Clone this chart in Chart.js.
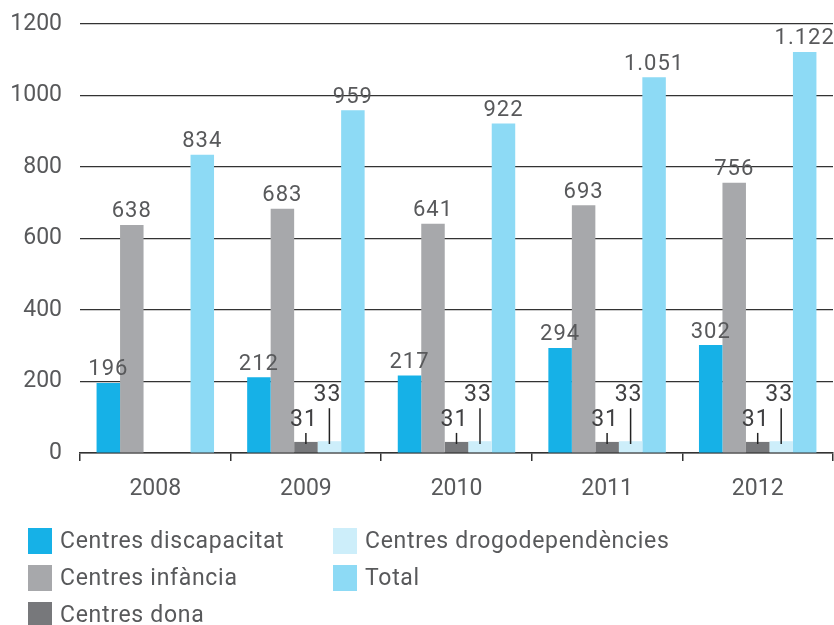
<!DOCTYPE html>
<html>
<head>
<meta charset="utf-8">
<script src="https://cdn.jsdelivr.net/npm/chart.js@4"></script>
<style>
  html, body { margin: 0; padding: 0; background: #fff; }
  #wrap { position: relative; width: 834px; height: 625px; }
  #legend { position: absolute; left: 28px; top: 522px; font-family: Roboto, sans-serif; font-size: 23px; letter-spacing: 0.7px; color: #58595b;
    display: grid; grid-template-columns: 305px 360px; grid-auto-flow: column; grid-template-rows: repeat(3, 37px); white-space: nowrap; }
  .item { display: flex; align-items: center; }
  .sw { width: 24px; height: 26px; margin-right: 8px; flex: none; }
</style>
</head>
<body>
<div id="wrap">
  <canvas id="chart" width="834" height="625"></canvas>
  <div id="legend"></div>
</div>
<script>
const years = ['2008', '2009', '2010', '2011', '2012'];
const seriesNames = ['Centres discapacitat', 'Centres infància', 'Centres dona', 'Centres drogodependències', 'Total'];
const discapacitat = [196, 212, 217, 294, 302];
const infancia = [638, 683, 641, 693, 756];
const dona = [null, 31, 31, 31, 31];
const drogo = [null, 33, 33, 33, 33];
const total = [834, 959, 922, 1051, 1122];
const yTicks = [0, 200, 400, 600, 800, 1000, 1200];

const colors = ['#16b1e7', '#a7a8ab', '#77787b', '#cdeefa', '#8ddaf5'];
// lifted labels with leader lines for the tiny bars
const lift = [0, 0, 12, 36, 0];

const fmt = v => v >= 1000 ? Math.floor(v / 1000) + '.' + String(v % 1000).padStart(3, '0') : String(v);

const valueLabels = {
  id: 'valueLabels',
  afterDatasetsDraw(chart) {
    const ctx = chart.ctx;
    const base = chart.scales.y.getPixelForValue(0);
    ctx.save();
    ctx.textAlign = 'center';
    ctx.textBaseline = 'bottom';
    ctx.letterSpacing = '1px';
    chart.data.datasets.forEach((ds, i) => {
      const meta = chart.getDatasetMeta(i);
      meta.data.forEach((bar, j) => {
        const v = ds.data[j];
        if (v == null) return;
        if (lift[i]) {
          const textBottom = bar.y - lift[i];
          ctx.fillStyle = '#404042';
          ctx.font = '23px Roboto, sans-serif';
          ctx.fillText(fmt(v), bar.x - 2, textBottom + 2);
          ctx.strokeStyle = '#222';
          ctx.lineWidth = 1.5;
          ctx.beginPath();
          ctx.moveTo(bar.x, textBottom + 3);
          ctx.lineTo(bar.x, base - 9);
          ctx.stroke();
        } else {
          ctx.fillStyle = '#58595b';
          ctx.font = '22px Roboto, sans-serif';
          ctx.fillText(fmt(v), bar.x, bar.y - 2);
        }
      });
    });
    ctx.restore();
  }
};

const seriesData = [discapacitat, infancia, dona, drogo, total];

new Chart(document.getElementById('chart'), {
  type: 'bar',
  data: {
    labels: years,
    datasets: seriesData.map((d, i) => ({
      label: seriesNames[i],
      data: d,
      backgroundColor: colors[i],
      categoryPercentage: 0.78,
      barPercentage: 1
    }))
  },
  options: {
    responsive: false,
    animation: false,
    layout: { padding: { top: 24, right: 1, bottom: 112, left: 0 } },
    plugins: { legend: { display: false }, tooltip: { enabled: false } },
    scales: {
      x: {
        grid: { drawOnChartArea: false, drawTicks: true, tickLength: 8, color: '#333', lineWidth: 1.5 },
        border: { display: true, color: '#333', width: 1.5 },
        ticks: { color: '#58595b', font: { family: 'Roboto, sans-serif', size: 23 }, padding: 14 },
        afterFit: s => { s.height = 60; s.paddingLeft = 0; s.paddingRight = 0; }
      },
      y: {
        min: 0, max: 1200,
        afterBuildTicks: s => { s.ticks = yTicks.map(v => ({ value: v })); },
        grid: { color: '#333', lineWidth: 1.2, drawTicks: false },
        border: { display: false },
        ticks: { color: '#58595b', font: { family: 'Roboto, sans-serif', size: 23 }, padding: 18, callback: v => String(v) },
        afterFit: s => { s.width = 80; s.paddingTop = 0; s.paddingBottom = 0; }
      }
    }
  },
  plugins: [valueLabels]
});

const legend = document.getElementById('legend');
[0, 1, 2, 3, 4].forEach(i => {
  const el = document.createElement('div');
  el.className = 'item';
  el.innerHTML = '<span class="sw" style="background:' + colors[i] + '"></span><span>' + seriesNames[i] + '</span>';
  legend.appendChild(el);
});
</script>
</body>
</html>
